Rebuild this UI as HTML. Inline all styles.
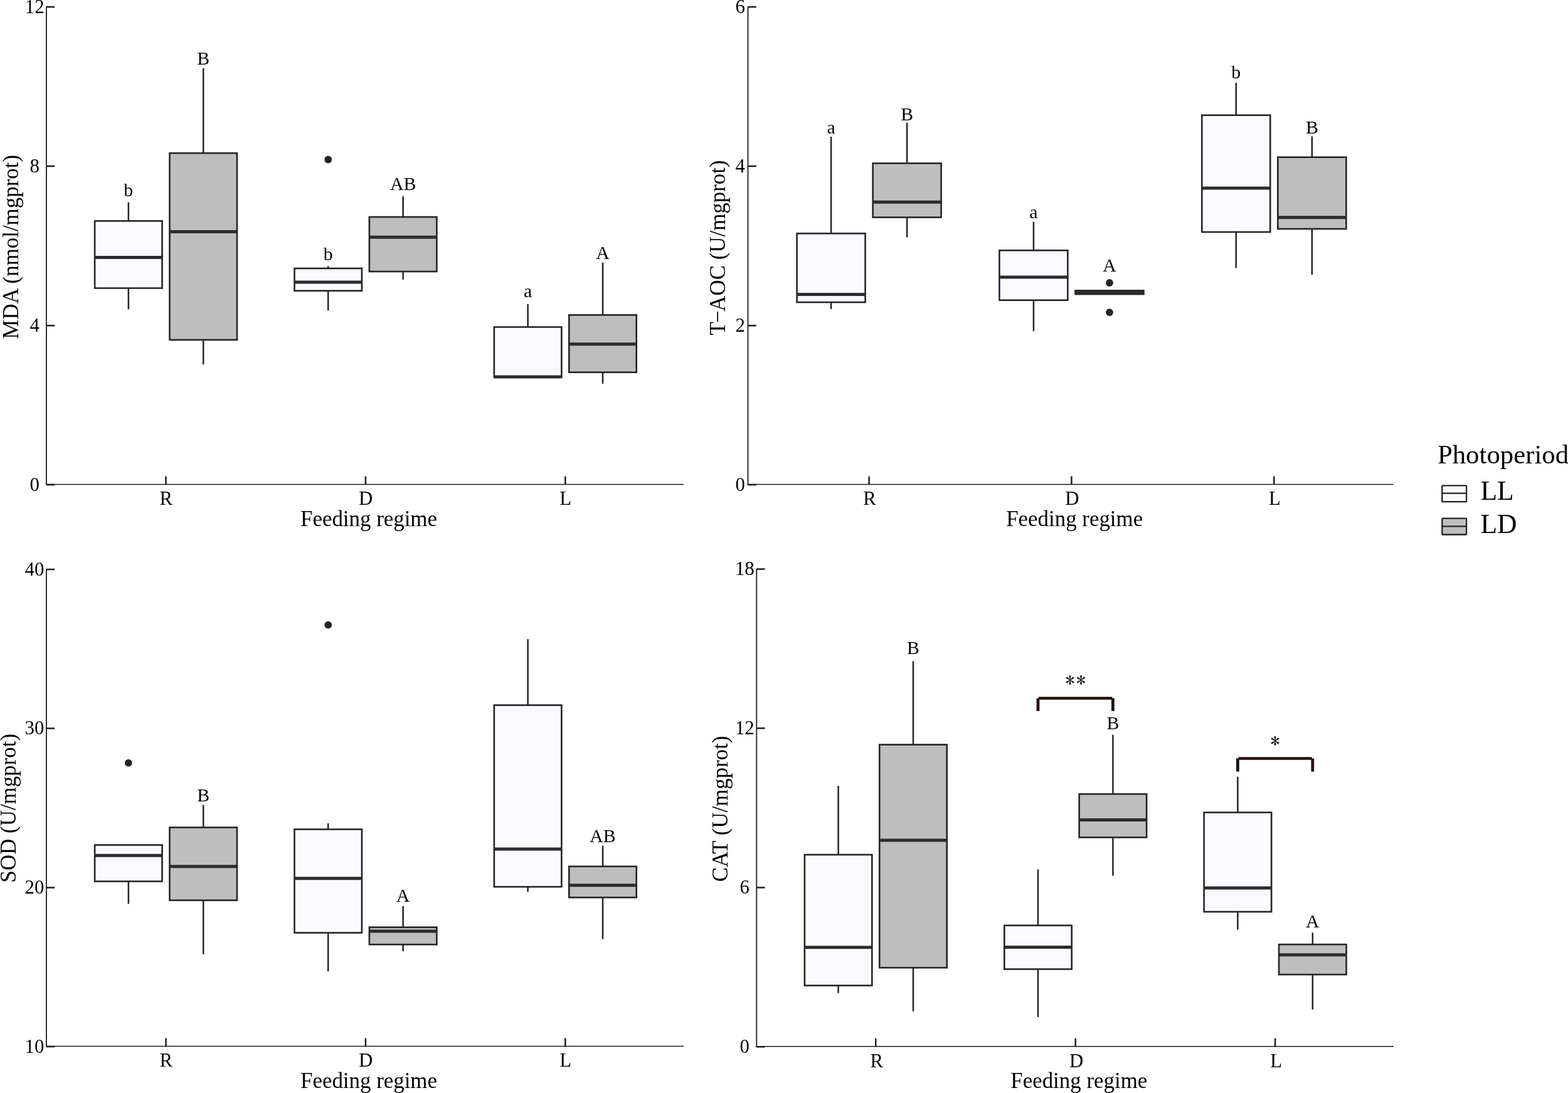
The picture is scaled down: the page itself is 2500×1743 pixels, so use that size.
<!DOCTYPE html>
<html><head><meta charset="utf-8"><title>Boxplots</title>
<style>html,body{margin:0;padding:0;background:#fff;overflow:hidden}svg{display:block}</style>
</head><body>
<svg width="2500" height="1743" viewBox="0 0 2500 1743" font-family="'Liberation Serif','Times New Roman',serif" fill="#000">
<rect x="0" y="0" width="2500" height="1743" fill="#fff"/>
<line x1="74" y1="10.4" x2="74" y2="773.6" stroke="#1c1c1c" stroke-width="1.8"/>
<line x1="73.15" y1="772.5" x2="1090" y2="772.5" stroke="#1c1c1c" stroke-width="1.6"/>
<line x1="74" y1="11" x2="87.3" y2="11" stroke="#1c1c1c" stroke-width="2.5"/>
<text x="55.2" y="20.6" font-size="30.8" text-anchor="middle">12</text>
<line x1="74" y1="265" x2="87.3" y2="265" stroke="#1c1c1c" stroke-width="2.5"/>
<text x="55.2" y="274.6" font-size="30.8" text-anchor="middle">8</text>
<line x1="74" y1="519.2" x2="87.3" y2="519.2" stroke="#1c1c1c" stroke-width="2.5"/>
<text x="55.2" y="528.8" font-size="30.8" text-anchor="middle">4</text>
<line x1="74" y1="773" x2="87.3" y2="773" stroke="#1c1c1c" stroke-width="2.5"/>
<text x="55.2" y="782.6" font-size="30.8" text-anchor="middle">0</text>
<line x1="264.5" y1="759.5" x2="264.5" y2="773" stroke="#1c1c1c" stroke-width="2.5"/>
<text x="264.8" y="805.3" font-size="30.8" text-anchor="middle">R</text>
<line x1="582.9" y1="759.5" x2="582.9" y2="773" stroke="#1c1c1c" stroke-width="2.5"/>
<text x="583.2" y="805.3" font-size="30.8" text-anchor="middle">D</text>
<line x1="901.3" y1="759.5" x2="901.3" y2="773" stroke="#1c1c1c" stroke-width="2.5"/>
<text x="901.6" y="805.3" font-size="30.8" text-anchor="middle">L</text>
<text transform="translate(29,393.8) rotate(-90)" x="0" y="0" font-size="34.9" text-anchor="middle">MDA (nmol/mgprot)</text>
<text x="588" y="839.1" font-size="34.9" text-anchor="middle">Feeding regime</text>
<line x1="204.8" y1="322.5" x2="204.8" y2="352.4" stroke="#242424" stroke-width="2.5"/>
<line x1="204.8" y1="459.5" x2="204.8" y2="493.2" stroke="#242424" stroke-width="2.5"/>
<rect x="151.07" y="352.4" width="107.46" height="107.1" fill="#FAF9FE" stroke="#242424" stroke-width="2.6"/>
<line x1="151.07" y1="410.5" x2="258.53" y2="410.5" stroke="#2c2c2c" stroke-width="5.0"/>
<text x="204.8" y="313.3" font-size="29.8" text-anchor="middle">b</text>
<line x1="324.2" y1="108.7" x2="324.2" y2="244.2" stroke="#242424" stroke-width="2.5"/>
<line x1="324.2" y1="542" x2="324.2" y2="581.2" stroke="#242424" stroke-width="2.5"/>
<rect x="270.47" y="244.2" width="107.46" height="297.8" fill="#BFBEBF" stroke="#242424" stroke-width="2.6"/>
<line x1="270.47" y1="369.5" x2="377.93" y2="369.5" stroke="#2c2c2c" stroke-width="5.0"/>
<text x="324.2" y="103" font-size="29.8" text-anchor="middle">B</text>
<line x1="523.2" y1="424.2" x2="523.2" y2="428" stroke="#242424" stroke-width="2.5"/>
<line x1="523.2" y1="463.7" x2="523.2" y2="495" stroke="#242424" stroke-width="2.5"/>
<rect x="469.47" y="428" width="107.46" height="35.7" fill="#FAF9FE" stroke="#242424" stroke-width="2.6"/>
<line x1="469.47" y1="450" x2="576.93" y2="450" stroke="#2c2c2c" stroke-width="5.0"/>
<circle cx="523.2" cy="254.5" r="5.9" fill="#242424"/>
<text x="523.2" y="414.6" font-size="29.8" text-anchor="middle">b</text>
<line x1="642.6" y1="313" x2="642.6" y2="346" stroke="#242424" stroke-width="2.5"/>
<line x1="642.6" y1="433" x2="642.6" y2="445.7" stroke="#242424" stroke-width="2.5"/>
<rect x="588.87" y="346" width="107.46" height="87" fill="#BFBEBF" stroke="#242424" stroke-width="2.6"/>
<line x1="588.87" y1="378.2" x2="696.33" y2="378.2" stroke="#2c2c2c" stroke-width="5.0"/>
<text x="642.6" y="303" font-size="29.8" text-anchor="middle">AB</text>
<line x1="841.6" y1="485" x2="841.6" y2="521.5" stroke="#242424" stroke-width="2.5"/>
<rect x="787.87" y="521.5" width="107.46" height="80" fill="#FAF9FE" stroke="#242424" stroke-width="2.6"/>
<line x1="787.87" y1="601" x2="895.33" y2="601" stroke="#2c2c2c" stroke-width="5.0"/>
<text x="841.6" y="474.2" font-size="29.8" text-anchor="middle">a</text>
<line x1="961" y1="418.7" x2="961" y2="502.3" stroke="#242424" stroke-width="2.5"/>
<line x1="961" y1="593.7" x2="961" y2="612" stroke="#242424" stroke-width="2.5"/>
<rect x="907.27" y="502.3" width="107.46" height="91.4" fill="#BFBEBF" stroke="#242424" stroke-width="2.6"/>
<line x1="907.27" y1="548.7" x2="1014.73" y2="548.7" stroke="#2c2c2c" stroke-width="5.0"/>
<text x="961" y="413" font-size="29.8" text-anchor="middle">A</text>
<line x1="1192.5" y1="10.4" x2="1192.5" y2="773.6" stroke="#1c1c1c" stroke-width="1.8"/>
<line x1="1191.65" y1="772.5" x2="2221.7" y2="772.5" stroke="#1c1c1c" stroke-width="1.6"/>
<line x1="1192.5" y1="11" x2="1205.8" y2="11" stroke="#1c1c1c" stroke-width="2.5"/>
<text x="1180.2" y="20.6" font-size="30.8" text-anchor="middle">6</text>
<line x1="1192.5" y1="265" x2="1205.8" y2="265" stroke="#1c1c1c" stroke-width="2.5"/>
<text x="1180.2" y="274.6" font-size="30.8" text-anchor="middle">4</text>
<line x1="1192.5" y1="519.2" x2="1205.8" y2="519.2" stroke="#1c1c1c" stroke-width="2.5"/>
<text x="1180.2" y="528.8" font-size="30.8" text-anchor="middle">2</text>
<line x1="1192.5" y1="773" x2="1205.8" y2="773" stroke="#1c1c1c" stroke-width="2.5"/>
<text x="1180.2" y="782.6" font-size="30.8" text-anchor="middle">0</text>
<line x1="1385.6" y1="759.5" x2="1385.6" y2="773" stroke="#1c1c1c" stroke-width="2.5"/>
<text x="1386.6" y="805.3" font-size="30.8" text-anchor="middle">R</text>
<line x1="1708.45" y1="759.5" x2="1708.45" y2="773" stroke="#1c1c1c" stroke-width="2.5"/>
<text x="1709.45" y="805.3" font-size="30.8" text-anchor="middle">D</text>
<line x1="2031.3" y1="759.5" x2="2031.3" y2="773" stroke="#1c1c1c" stroke-width="2.5"/>
<text x="2032.3" y="805.3" font-size="30.8" text-anchor="middle">L</text>
<text transform="translate(1155.6,395) rotate(-90)" x="0" y="0" font-size="34.9" text-anchor="middle">T<tspan dx="-1.6">−</tspan><tspan dx="-1.6">AOC (U/mgprot)</tspan></text>
<text x="1713.2" y="838.6" font-size="34.9" text-anchor="middle">Feeding regime</text>
<line x1="1325.07" y1="218" x2="1325.07" y2="372.3" stroke="#242424" stroke-width="2.5"/>
<line x1="1325.07" y1="482" x2="1325.07" y2="493" stroke="#242424" stroke-width="2.5"/>
<rect x="1270.58" y="372.3" width="108.96" height="109.7" fill="#FAF9FE" stroke="#242424" stroke-width="2.6"/>
<line x1="1270.58" y1="469.5" x2="1379.55" y2="469.5" stroke="#2c2c2c" stroke-width="5.0"/>
<text x="1325.07" y="213.3" font-size="29.8" text-anchor="middle">a</text>
<line x1="1446.13" y1="195.6" x2="1446.13" y2="260.4" stroke="#242424" stroke-width="2.5"/>
<line x1="1446.13" y1="346.6" x2="1446.13" y2="378.6" stroke="#242424" stroke-width="2.5"/>
<rect x="1391.65" y="260.4" width="108.96" height="86.2" fill="#BFBEBF" stroke="#242424" stroke-width="2.6"/>
<line x1="1391.65" y1="322.3" x2="1500.62" y2="322.3" stroke="#2c2c2c" stroke-width="5.0"/>
<text x="1446.13" y="192" font-size="29.8" text-anchor="middle">B</text>
<line x1="1647.92" y1="353.6" x2="1647.92" y2="399.3" stroke="#242424" stroke-width="2.5"/>
<line x1="1647.92" y1="478.7" x2="1647.92" y2="528" stroke="#242424" stroke-width="2.5"/>
<rect x="1593.43" y="399.3" width="108.96" height="79.4" fill="#FAF9FE" stroke="#242424" stroke-width="2.6"/>
<line x1="1593.43" y1="441.9" x2="1702.4" y2="441.9" stroke="#2c2c2c" stroke-width="5.0"/>
<text x="1647.92" y="347.6" font-size="29.8" text-anchor="middle">a</text>
<rect x="1714.5" y="463.4" width="108.96" height="5.7" fill="#BFBEBF" stroke="#242424" stroke-width="2.6"/>
<line x1="1714.5" y1="466.2" x2="1823.47" y2="466.2" stroke="#2c2c2c" stroke-width="5.0"/>
<circle cx="1768.98" cy="451" r="5.9" fill="#242424"/>
<circle cx="1768.98" cy="498.1" r="5.9" fill="#242424"/>
<text x="1768.98" y="432.6" font-size="29.8" text-anchor="middle">A</text>
<line x1="1970.77" y1="132" x2="1970.77" y2="183.7" stroke="#242424" stroke-width="2.5"/>
<line x1="1970.77" y1="370" x2="1970.77" y2="427.3" stroke="#242424" stroke-width="2.5"/>
<rect x="1916.28" y="183.7" width="108.96" height="186.3" fill="#FAF9FE" stroke="#242424" stroke-width="2.6"/>
<line x1="1916.28" y1="300" x2="2025.25" y2="300" stroke="#2c2c2c" stroke-width="5.0"/>
<text x="1970.77" y="124.7" font-size="29.8" text-anchor="middle">b</text>
<line x1="2091.83" y1="217.5" x2="2091.83" y2="250.7" stroke="#242424" stroke-width="2.5"/>
<line x1="2091.83" y1="365" x2="2091.83" y2="437.8" stroke="#242424" stroke-width="2.5"/>
<rect x="2037.35" y="250.7" width="108.96" height="114.3" fill="#BFBEBF" stroke="#242424" stroke-width="2.6"/>
<line x1="2037.35" y1="346.8" x2="2146.32" y2="346.8" stroke="#2c2c2c" stroke-width="5.0"/>
<text x="2091.83" y="212.5" font-size="29.8" text-anchor="middle">B</text>
<line x1="74" y1="907.4" x2="74" y2="1669.6" stroke="#1c1c1c" stroke-width="1.8"/>
<line x1="73.15" y1="1668.5" x2="1090" y2="1668.5" stroke="#1c1c1c" stroke-width="1.6"/>
<line x1="74" y1="908" x2="87.3" y2="908" stroke="#1c1c1c" stroke-width="2.5"/>
<text x="55" y="917.6" font-size="30.8" text-anchor="middle">40</text>
<line x1="74" y1="1161.5" x2="87.3" y2="1161.5" stroke="#1c1c1c" stroke-width="2.5"/>
<text x="55" y="1171.1" font-size="30.8" text-anchor="middle">30</text>
<line x1="74" y1="1415.5" x2="87.3" y2="1415.5" stroke="#1c1c1c" stroke-width="2.5"/>
<text x="55" y="1425.1" font-size="30.8" text-anchor="middle">20</text>
<line x1="74" y1="1669" x2="87.3" y2="1669" stroke="#1c1c1c" stroke-width="2.5"/>
<text x="55" y="1678.6" font-size="30.8" text-anchor="middle">10</text>
<line x1="264.5" y1="1655.5" x2="264.5" y2="1669" stroke="#1c1c1c" stroke-width="2.5"/>
<text x="264.8" y="1701.3" font-size="30.8" text-anchor="middle">R</text>
<line x1="582.9" y1="1655.5" x2="582.9" y2="1669" stroke="#1c1c1c" stroke-width="2.5"/>
<text x="583.2" y="1701.3" font-size="30.8" text-anchor="middle">D</text>
<line x1="901.3" y1="1655.5" x2="901.3" y2="1669" stroke="#1c1c1c" stroke-width="2.5"/>
<text x="901.6" y="1701.3" font-size="30.8" text-anchor="middle">L</text>
<text transform="translate(24.75,1288.7) rotate(-90)" x="0" y="0" font-size="34.9" text-anchor="middle">SOD (U/mgprot)</text>
<text x="588" y="1735.3" font-size="34.9" text-anchor="middle">Feeding regime</text>
<line x1="204.8" y1="1405.5" x2="204.8" y2="1441.5" stroke="#242424" stroke-width="2.5"/>
<rect x="151.07" y="1347.5" width="107.46" height="58" fill="#FAF9FE" stroke="#242424" stroke-width="2.6"/>
<line x1="151.07" y1="1364.2" x2="258.53" y2="1364.2" stroke="#2c2c2c" stroke-width="5.0"/>
<circle cx="204.8" cy="1216.7" r="5.9" fill="#242424"/>
<line x1="324.2" y1="1283.7" x2="324.2" y2="1319.5" stroke="#242424" stroke-width="2.5"/>
<line x1="324.2" y1="1435.7" x2="324.2" y2="1521.7" stroke="#242424" stroke-width="2.5"/>
<rect x="270.47" y="1319.5" width="107.46" height="116.2" fill="#BFBEBF" stroke="#242424" stroke-width="2.6"/>
<line x1="270.47" y1="1381.7" x2="377.93" y2="1381.7" stroke="#2c2c2c" stroke-width="5.0"/>
<text x="324.2" y="1277.8" font-size="29.8" text-anchor="middle">B</text>
<line x1="523.2" y1="1313" x2="523.2" y2="1322.5" stroke="#242424" stroke-width="2.5"/>
<line x1="523.2" y1="1487.5" x2="523.2" y2="1549" stroke="#242424" stroke-width="2.5"/>
<rect x="469.47" y="1322.5" width="107.46" height="165" fill="#FAF9FE" stroke="#242424" stroke-width="2.6"/>
<line x1="469.47" y1="1400.7" x2="576.93" y2="1400.7" stroke="#2c2c2c" stroke-width="5.0"/>
<circle cx="523.2" cy="996.7" r="5.9" fill="#242424"/>
<line x1="642.6" y1="1445" x2="642.6" y2="1478.7" stroke="#242424" stroke-width="2.5"/>
<line x1="642.6" y1="1506.2" x2="642.6" y2="1517" stroke="#242424" stroke-width="2.5"/>
<rect x="588.87" y="1478.7" width="107.46" height="27.5" fill="#BFBEBF" stroke="#242424" stroke-width="2.6"/>
<line x1="588.87" y1="1485" x2="696.33" y2="1485" stroke="#2c2c2c" stroke-width="5.0"/>
<text x="642.6" y="1438" font-size="29.8" text-anchor="middle">A</text>
<line x1="841.6" y1="1019.2" x2="841.6" y2="1124.5" stroke="#242424" stroke-width="2.5"/>
<line x1="841.6" y1="1414.2" x2="841.6" y2="1422" stroke="#242424" stroke-width="2.5"/>
<rect x="787.87" y="1124.5" width="107.46" height="289.7" fill="#FAF9FE" stroke="#242424" stroke-width="2.6"/>
<line x1="787.87" y1="1354" x2="895.33" y2="1354" stroke="#2c2c2c" stroke-width="5.0"/>
<line x1="961" y1="1348.5" x2="961" y2="1381.7" stroke="#242424" stroke-width="2.5"/>
<line x1="961" y1="1431.2" x2="961" y2="1497.5" stroke="#242424" stroke-width="2.5"/>
<rect x="907.27" y="1381.7" width="107.46" height="49.5" fill="#BFBEBF" stroke="#242424" stroke-width="2.6"/>
<line x1="907.27" y1="1411.7" x2="1014.73" y2="1411.7" stroke="#2c2c2c" stroke-width="5.0"/>
<text x="961" y="1343.3" font-size="29.8" text-anchor="middle">AB</text>
<line x1="1206.3" y1="906.9" x2="1206.3" y2="1669.9" stroke="#1c1c1c" stroke-width="1.8"/>
<line x1="1205.45" y1="1668.8" x2="2222" y2="1668.8" stroke="#1c1c1c" stroke-width="1.6"/>
<line x1="1206.3" y1="907.5" x2="1219.6" y2="907.5" stroke="#1c1c1c" stroke-width="2.5"/>
<text x="1187.3" y="917.1" font-size="30.8" text-anchor="middle">18</text>
<line x1="1206.3" y1="1161.3" x2="1219.6" y2="1161.3" stroke="#1c1c1c" stroke-width="2.5"/>
<text x="1187.3" y="1170.9" font-size="30.8" text-anchor="middle">12</text>
<line x1="1206.3" y1="1415.4" x2="1219.6" y2="1415.4" stroke="#1c1c1c" stroke-width="2.5"/>
<text x="1187.3" y="1425" font-size="30.8" text-anchor="middle">6</text>
<line x1="1206.3" y1="1669.3" x2="1219.6" y2="1669.3" stroke="#1c1c1c" stroke-width="2.5"/>
<text x="1187.3" y="1678.9" font-size="30.8" text-anchor="middle">0</text>
<line x1="1396.3" y1="1655.8" x2="1396.3" y2="1669.3" stroke="#1c1c1c" stroke-width="2.5"/>
<text x="1397.8" y="1701.6" font-size="30.8" text-anchor="middle">R</text>
<line x1="1714.7" y1="1655.8" x2="1714.7" y2="1669.3" stroke="#1c1c1c" stroke-width="2.5"/>
<text x="1716.2" y="1701.6" font-size="30.8" text-anchor="middle">D</text>
<line x1="2033.1" y1="1655.8" x2="2033.1" y2="1669.3" stroke="#1c1c1c" stroke-width="2.5"/>
<text x="2034.6" y="1701.6" font-size="30.8" text-anchor="middle">L</text>
<text transform="translate(1160.3,1289.9) rotate(-90)" x="0" y="0" font-size="34.9" text-anchor="middle">CAT (U/mgprot)</text>
<text x="1720.3" y="1735" font-size="34.9" text-anchor="middle">Feeding regime</text>
<line x1="1336.6" y1="1253.2" x2="1336.6" y2="1363" stroke="#242424" stroke-width="2.5"/>
<line x1="1336.6" y1="1571.6" x2="1336.6" y2="1583.7" stroke="#242424" stroke-width="2.5"/>
<rect x="1282.87" y="1363" width="107.46" height="208.6" fill="#FAF9FE" stroke="#242424" stroke-width="2.6"/>
<line x1="1282.87" y1="1510.8" x2="1390.33" y2="1510.8" stroke="#2c2c2c" stroke-width="5.0"/>
<line x1="1456" y1="1054.2" x2="1456" y2="1187.5" stroke="#242424" stroke-width="2.5"/>
<line x1="1456" y1="1543.2" x2="1456" y2="1612.7" stroke="#242424" stroke-width="2.5"/>
<rect x="1402.27" y="1187.5" width="107.46" height="355.7" fill="#BFBEBF" stroke="#242424" stroke-width="2.6"/>
<line x1="1402.27" y1="1339.9" x2="1509.73" y2="1339.9" stroke="#2c2c2c" stroke-width="5.0"/>
<text x="1456" y="1043.2" font-size="29.8" text-anchor="middle">B</text>
<line x1="1655" y1="1386.5" x2="1655" y2="1475.8" stroke="#242424" stroke-width="2.5"/>
<line x1="1655" y1="1545.5" x2="1655" y2="1621.9" stroke="#242424" stroke-width="2.5"/>
<rect x="1601.27" y="1475.8" width="107.46" height="69.7" fill="#FAF9FE" stroke="#242424" stroke-width="2.6"/>
<line x1="1601.27" y1="1510.5" x2="1708.73" y2="1510.5" stroke="#2c2c2c" stroke-width="5.0"/>
<line x1="1774.4" y1="1171.7" x2="1774.4" y2="1266.2" stroke="#242424" stroke-width="2.5"/>
<line x1="1774.4" y1="1335.4" x2="1774.4" y2="1396.6" stroke="#242424" stroke-width="2.5"/>
<rect x="1720.67" y="1266.2" width="107.46" height="69.2" fill="#BFBEBF" stroke="#242424" stroke-width="2.6"/>
<line x1="1720.67" y1="1307.4" x2="1828.13" y2="1307.4" stroke="#2c2c2c" stroke-width="5.0"/>
<text x="1774.4" y="1163.2" font-size="29.8" text-anchor="middle">B</text>
<line x1="1973.4" y1="1238.7" x2="1973.4" y2="1295.6" stroke="#242424" stroke-width="2.5"/>
<line x1="1973.4" y1="1454" x2="1973.4" y2="1482.4" stroke="#242424" stroke-width="2.5"/>
<rect x="1919.67" y="1295.6" width="107.46" height="158.4" fill="#FAF9FE" stroke="#242424" stroke-width="2.6"/>
<line x1="1919.67" y1="1416" x2="2027.13" y2="1416" stroke="#2c2c2c" stroke-width="5.0"/>
<line x1="2092.8" y1="1487.3" x2="2092.8" y2="1506.1" stroke="#242424" stroke-width="2.5"/>
<line x1="2092.8" y1="1554.1" x2="2092.8" y2="1609.8" stroke="#242424" stroke-width="2.5"/>
<rect x="2039.07" y="1506.1" width="107.46" height="48" fill="#BFBEBF" stroke="#242424" stroke-width="2.6"/>
<line x1="2039.07" y1="1522.7" x2="2146.53" y2="1522.7" stroke="#2c2c2c" stroke-width="5.0"/>
<text x="2092.8" y="1479.2" font-size="29.8" text-anchor="middle">A</text>
<line x1="1656" y1="1113.4" x2="1773.4" y2="1113.4" stroke="#221210" stroke-width="4.5"/>
<line x1="1655" y1="1113.4" x2="1655" y2="1133.8" stroke="#221210" stroke-width="4.8"/>
<line x1="1774.4" y1="1113.4" x2="1774.4" y2="1133.8" stroke="#221210" stroke-width="4.8"/>
<text x="1714.7" y="1094.5" font-size="30" font-family="IPAGothic,'Liberation Serif',serif" text-anchor="middle">*<tspan dx="2.5">*</tspan></text>
<line x1="1974.4" y1="1209.5" x2="2091.8" y2="1209.5" stroke="#221210" stroke-width="4.5"/>
<line x1="1973.4" y1="1209.5" x2="1973.4" y2="1230.5" stroke="#221210" stroke-width="4.8"/>
<line x1="2092.8" y1="1209.5" x2="2092.8" y2="1230.5" stroke="#221210" stroke-width="4.8"/>
<text x="2033.1" y="1191.9" font-size="30" font-family="IPAGothic,'Liberation Serif',serif" text-anchor="middle">*</text>
<text x="2291.9" y="739.4" font-size="42.8">Photoperiod</text>
<rect x="2299.3" y="774.3" width="38.8" height="25.9" fill="#FAF9FE" stroke="#242424" stroke-width="2.3" rx="0.8"/>
<line x1="2299.3" y1="786.7" x2="2338.1" y2="786.7" stroke="#242424" stroke-width="2.3"/>
<text x="2360.4" y="797" font-size="43.6">LL</text>
<rect x="2299.3" y="826.6" width="38.8" height="25.9" fill="#BFBEBF" stroke="#242424" stroke-width="2.3" rx="0.8"/>
<line x1="2299.3" y1="839.3" x2="2338.1" y2="839.3" stroke="#242424" stroke-width="2.3"/>
<text x="2360.4" y="849.6" font-size="43.6">LD</text>
</svg>
</body></html>
